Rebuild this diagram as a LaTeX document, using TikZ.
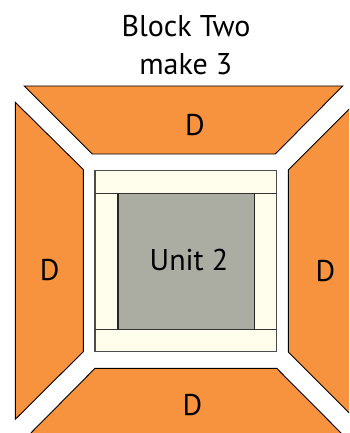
\documentclass[tikz,border=0pt]{standalone}
\usepackage{fontspec}
\setmainfont{PT Sans}
\definecolor{dorange}{RGB}{247,146,62}
\definecolor{cream}{RGB}{255,254,237}
\definecolor{ugray}{RGB}{171,172,162}
\begin{document}
\begin{tikzpicture}[x=1pt,y=-1pt,
  piece/.style={fill=dorange,draw=black,line width=0.9pt,line join=miter},
  lab/.style={inner sep=0pt,anchor=base,font=\fontsize{30}{38}\selectfont}]
\useasboundingbox (0,0) rectangle (349,433);
\clip (0,0) rectangle (349,433);
% top trapezoid
\draw[piece] (24.3,86) -- (342.7,86) -- (275.3,154) -- (92.3,154) -- cycle;
% left trapezoid
\draw[piece] (15.3,102.3) -- (83.3,169.5) -- (83.3,351.7) -- (15.3,419.3) -- cycle;
% right trapezoid
\draw[piece] (356.3,102) -- (288.3,170) -- (288.3,352) -- (356.3,420) -- cycle;
% bottom trapezoid
\draw[piece] (95,368.3) -- (276.7,368.3) -- (353,445) -- (19,445) -- cycle;
% centre unit
\draw[fill=cream,draw=black!70,line width=1.3pt] (95,170.7) rectangle (276.7,351.7);
\draw[fill=ugray,draw=none] (118,193.3) rectangle (254.3,329.3);
\draw[black!80,line width=1pt] (95,193.3) -- (276.7,193.3);
\draw[black!80,line width=1pt] (95,329.3) -- (276.7,329.3);
\draw[black!85,line width=1.6pt] (118,193.3) -- (118,329.3);
\draw[black!85,line width=1.6pt] (254.3,193.3) -- (254.3,329.3);
% labels
\node[lab] (t1) at (186,36.7) {Block Two};
\node[lab] (t2) at (185.8,75) {make 3};
\node[lab] (dt) at (195,135) {D};
\node[lab] (dl) at (49.7,280) {D};
\node[lab] (dr) at (325.5,281) {D};
\node[lab] (db) at (192.5,415) {D};
\node[lab] (u) at (189,270) {Unit 2};
\end{tikzpicture}
\end{document}
